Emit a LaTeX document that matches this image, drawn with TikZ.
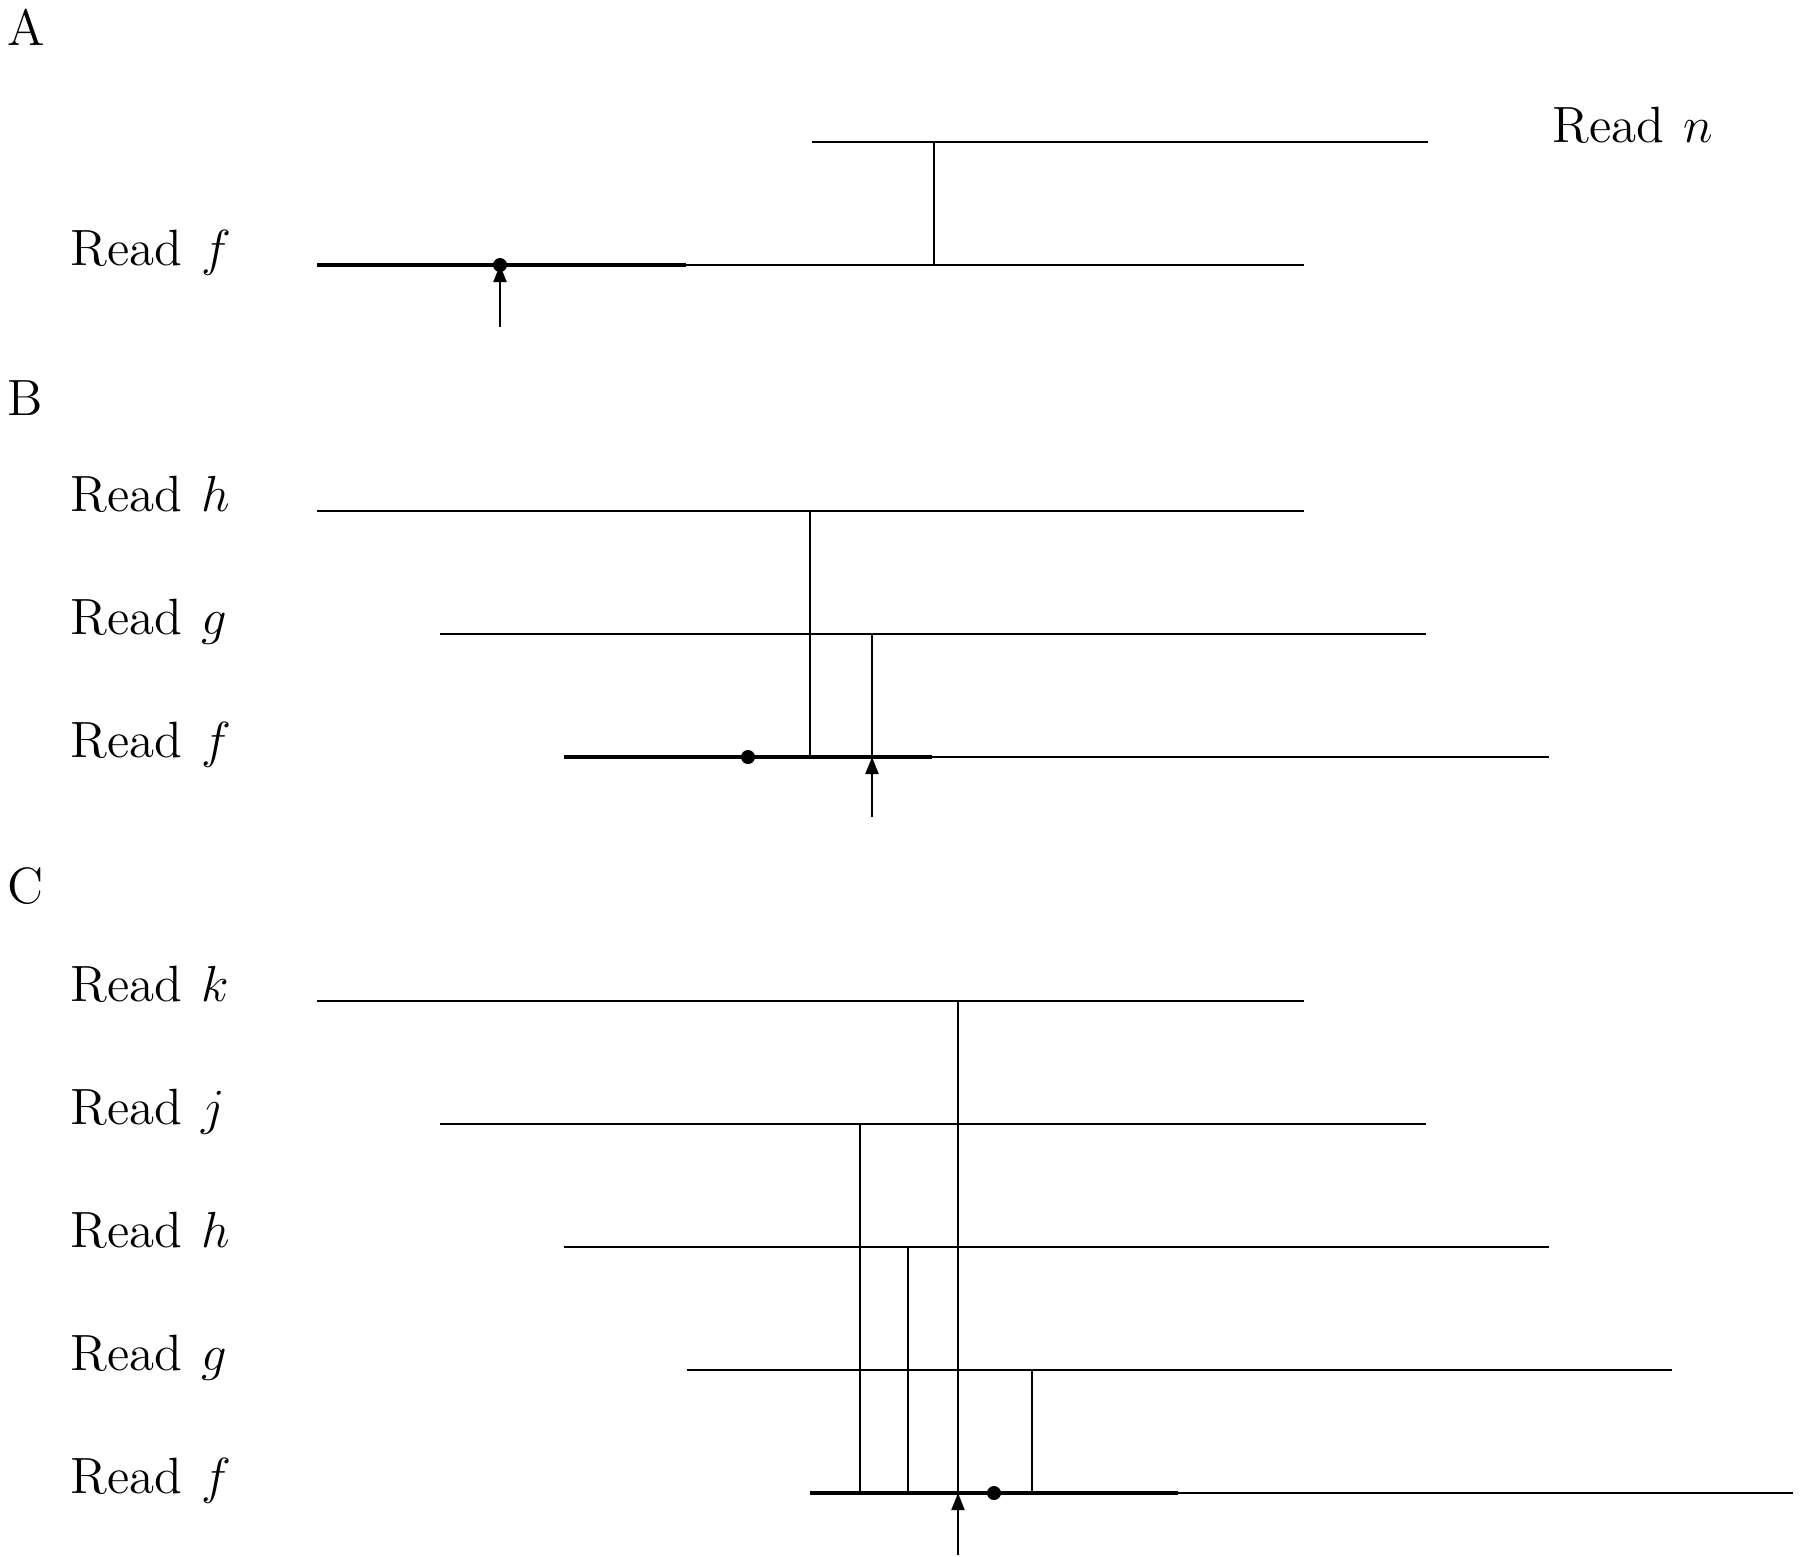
\documentclass[tikz,border=0pt]{standalone}
\usetikzlibrary{arrows.meta}

\newcommand{\rd}[1]{Read\hspace{0.38em}$#1$}

\begin{document}
\begin{tikzpicture}[x=0.01cm, y=-0.01cm]
    \tikzset{
        txt/.style={anchor=base west, inner sep=0pt, font=\fontsize{14.5}{17}\selectfont},
        read line/.style={line width=0.8pt},
        held line/.style={line width=1.35pt},
        link/.style={line width=0.6pt},
        probe/.style={line width=0.6pt, -{Triangle[length=0.17cm, width=0.13cm]}},
        spot/.style={circle, fill, inner sep=0pt, minimum size=0.14cm},
    }
    \useasboundingbox (0, 0) rectangle (1800, 1556);
    % \draw[help lines, step=100] (0, 0) grid (1800, 1556);

    % panel A
    \node [txt] (A) at (7, 45) {A};
    \node [txt] (an) at (1552, 142) {\rd{n}};
    \node [txt] (af) at (70, 265) {\rd{f}};
    \coordinate (an1) at (812, 142);
    \coordinate (an2) at (1428, 142);
    \coordinate (af1) at (317, 265);
    \coordinate (af2) at (1304, 265);
    \coordinate (afk) at (686, 265);
    \draw [read line] (an1) -- (an2);
    \draw [read line] (af1) -- (af2);
    \draw [held line] (af1) -- (afk);
    \coordinate (anv) at (934, 142);
    \draw [link] (anv) -- (anv |- af1);
    \node [spot] (adot) at (500, 265) {};
    \coordinate (ap) at (500, 327);
    \draw [probe] (ap) -- (ap |- af1);

    % panel B
    \node [txt] (B) at (7, 415) {B};
    \node [txt] (bh) at (70, 511) {\rd{h}};
    \node [txt] (bg) at (70, 634) {\rd{g}};
    \node [txt] (bf) at (70, 757) {\rd{f}};
    \coordinate (bh1) at (317, 511);
    \coordinate (bh2) at (1304, 511);
    \coordinate (bg1) at (440, 634);
    \coordinate (bg2) at (1426, 634);
    \coordinate (bf1) at (564, 757);
    \coordinate (bf2) at (1549, 757);
    \coordinate (bfk) at (932, 757);
    \draw [read line] (bh1) -- (bh2);
    \draw [read line] (bg1) -- (bg2);
    \draw [read line] (bf1) -- (bf2);
    \draw [held line] (bf1) -- (bfk);
    \coordinate (bhv) at (810, 511);
    \coordinate (bgv) at (872, 634);
    \draw [link] (bhv) -- (bhv |- bf1);
    \draw [link] (bgv) -- (bgv |- bf1);
    \node [spot] (bdot) at (748, 757) {};
    \coordinate (bp) at (872, 817);
    \draw [probe] (bp) -- (bp |- bf1);

    % panel C
    \node [txt] (C) at (7, 903) {C};
    \node [txt] (ck) at (70, 1001) {\rd{k}};
    \node [txt] (cj) at (70, 1124) {\rd{j}};
    \node [txt] (ch) at (70, 1247) {\rd{h}};
    \node [txt] (cg) at (70, 1370) {\rd{g}};
    \node [txt] (cf) at (70, 1493) {\rd{f}};
    \coordinate (ck1) at (317, 1001);
    \coordinate (ck2) at (1304, 1001);
    \coordinate (cj1) at (440, 1124);
    \coordinate (cj2) at (1426, 1124);
    \coordinate (ch1) at (564, 1247);
    \coordinate (ch2) at (1549, 1247);
    \coordinate (cg1) at (687, 1370);
    \coordinate (cg2) at (1672, 1370);
    \coordinate (cf1) at (810, 1493);
    \coordinate (cf2) at (1793, 1493);
    \coordinate (cfk) at (1178, 1493);
    \draw [read line] (ck1) -- (ck2);
    \draw [read line] (cj1) -- (cj2);
    \draw [read line] (ch1) -- (ch2);
    \draw [read line] (cg1) -- (cg2);
    \draw [read line] (cf1) -- (cf2);
    \draw [held line] (cf1) -- (cfk);
    \coordinate (cjv) at (860, 1124);
    \coordinate (chv) at (908, 1247);
    \coordinate (ckv) at (958, 1001);
    \coordinate (cgv) at (1032, 1370);
    \draw [link] (cjv) -- (cjv |- cf1);
    \draw [link] (chv) -- (chv |- cf1);
    \draw [link] (ckv) -- (ckv |- cf1);
    \draw [link] (cgv) -- (cgv |- cf1);
    \node [spot] (cdot) at (994, 1493) {};
    \coordinate (cp) at (958, 1555);
    \draw [probe] (cp) -- (cp |- cf1);
\end{tikzpicture}
\end{document}
